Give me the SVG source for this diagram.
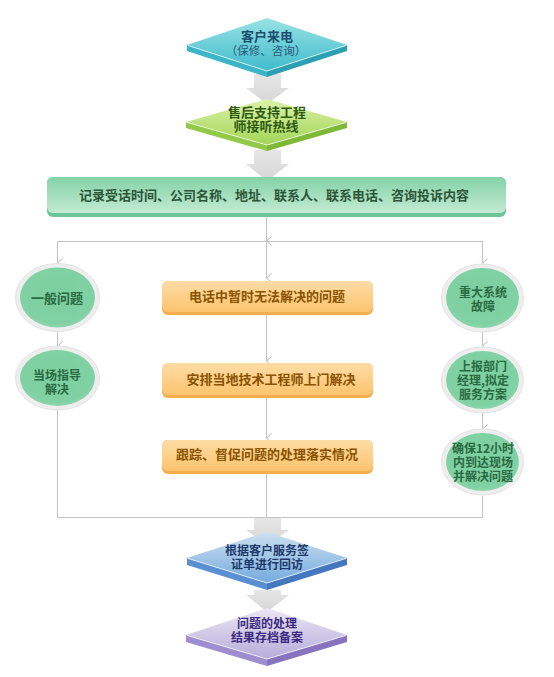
<svg xmlns="http://www.w3.org/2000/svg" width="554" height="677" viewBox="0 0 554 677">
<defs>
<linearGradient id="gCyan" x1="0" y1="0" x2="0" y2="1"><stop offset="0" stop-color="#9ae2e6"/><stop offset="1" stop-color="#3fbccb"/></linearGradient>
<linearGradient id="gGreen" x1="0" y1="0" x2="0" y2="1"><stop offset="0" stop-color="#dcf1aa"/><stop offset="1" stop-color="#a2d556"/></linearGradient>
<linearGradient id="gBlue" x1="0" y1="0" x2="0" y2="1"><stop offset="0" stop-color="#cde0f1"/><stop offset="1" stop-color="#75abdd"/></linearGradient>
<linearGradient id="gPurple" x1="0" y1="0" x2="0" y2="1"><stop offset="0" stop-color="#ebe7f4"/><stop offset="1" stop-color="#b7acda"/></linearGradient>
<linearGradient id="gRect" x1="0" y1="0" x2="0" y2="1"><stop offset="0" stop-color="#84d2a8"/><stop offset="1" stop-color="#c3ebd3"/></linearGradient>
<linearGradient id="gOrange" x1="0" y1="0" x2="0" y2="1"><stop offset="0" stop-color="#fedca6"/><stop offset="1" stop-color="#fcc46e"/></linearGradient>
<radialGradient id="gOval" cx="0.5" cy="0.45" r="0.6"><stop offset="0" stop-color="#7ccf9f"/><stop offset="0.8" stop-color="#80d1a3"/><stop offset="1" stop-color="#98dab4"/></radialGradient>
<linearGradient id="gArrow" x1="0" y1="0" x2="0" y2="1"><stop offset="0" stop-color="#e6e6e6"/><stop offset="1" stop-color="#d6d6d6"/></linearGradient>
<marker id="chev" viewBox="0 0 10 6" refX="5" refY="5.5" markerWidth="10" markerHeight="6" markerUnits="userSpaceOnUse" orient="auto-start-reverse">
<path d="M0.5,0.5 L5,5.5 L9.5,0.5" fill="none" stroke="#b8b8b8" stroke-width="1"/>
</marker>
</defs>
<style>
text{font-family:"Noto Sans CJK SC","Noto Sans",sans-serif;font-size:13px;font-weight:bold;text-anchor:middle}
.s{font-size:12px}
.ln{stroke:#c4c4c4;stroke-width:1;fill:none}
.big{fill:url(#gArrow)}
.ring{fill:#eeeeee;stroke:#e2e2e2;stroke-width:1}
.oval{fill:url(#gOval)}
.tg{fill:#2a6a40}
.to{fill:#8a5300}
.hl{fill:none;stroke:#ffffff;stroke-opacity:0.7;stroke-width:1}
</style>
<rect width="554" height="677" fill="#ffffff"/>
<g id="connectors">
<polygon class="big" points="254,74 281,74 281,88 289,88 267,104 246,88 254,88"/>
<polygon class="big" points="254,150 281,150 281,164 289,164 267,181 246,164 254,164"/>
<line class="ln" x1="266.5" y1="217" x2="266.5" y2="241" marker-end="url(#chev)"/>
<line class="ln" x1="57" y1="241.5" x2="483" y2="241.5"/>
<line class="ln" x1="57.5" y1="241" x2="57.5" y2="263" marker-end="url(#chev)"/>
<line class="ln" x1="266.5" y1="241" x2="266.5" y2="278" marker-end="url(#chev)"/>
<line class="ln" x1="482.5" y1="241" x2="482.5" y2="263" marker-end="url(#chev)"/>
<line class="ln" x1="57.5" y1="331" x2="57.5" y2="346" marker-end="url(#chev)"/>
<line class="ln" x1="57.5" y1="409" x2="57.5" y2="517"/>
<line class="ln" x1="266.5" y1="315" x2="266.5" y2="361" marker-end="url(#chev)"/>
<line class="ln" x1="266.5" y1="398" x2="266.5" y2="438" marker-end="url(#chev)"/>
<line class="ln" x1="266.5" y1="474" x2="266.5" y2="517"/>
<line class="ln" x1="482.5" y1="331" x2="482.5" y2="346" marker-end="url(#chev)"/>
<line class="ln" x1="482.5" y1="413" x2="482.5" y2="429" marker-end="url(#chev)"/>
<line class="ln" x1="482.5" y1="496" x2="482.5" y2="517"/>
<line class="ln" x1="57" y1="517.5" x2="483" y2="517.5"/>
<polygon class="big" points="254,518 281,518 281,530 289,530 267,545 246,530 254,530"/>
<polygon class="big" points="254,590 281,590 281,595 289,595 267,612 246,595 254,595"/>
</g>
<g id="n-call">
<polygon points="187,45 267,71 267,77 187,51" fill="#3bb6c6"/>
<polygon points="267,71 347,45 347,51 267,77" fill="#2aa0b2"/>
<polygon points="267,18 347,45 267,71 187,45" fill="url(#gCyan)"/>
<polyline class="hl" points="188,45.5 267,71 346,45.5"/>
<text x="267" y="41" fill="#1c4f6e">客户来电</text>
<text x="266" y="55" fill="#2a5a78" style="font-weight:normal;font-size:11.5px">（保修、咨询）</text>
</g>
<g id="n-hotline">
<polygon points="186,122 267,145 267,151 186,128" fill="#93c948"/>
<polygon points="267,145 347,122 347,128 267,151" fill="#7fb836"/>
<polygon points="267,99 347,122 267,145 186,122" fill="url(#gGreen)"/>
<polyline class="hl" points="187,122.5 267,145 346,122.5"/>
<text x="267" y="117" fill="#2e5a12">售后支持工程</text>
<text x="266" y="131" fill="#2e5a12">师接听热线</text>
</g>
<g id="n-record">
<rect x="47" y="177" width="459" height="40" rx="6" fill="#6cc596"/>
<rect x="47" y="177" width="459" height="36" rx="6" fill="url(#gRect)"/>
<text x="274" y="200" fill="#2d5638">记录受话时间、公司名称、地址、联系人、联系电话、咨询投诉内容</text>
</g>
<g id="n-general">
<ellipse class="ring" cx="57.5" cy="297.5" rx="42" ry="34"/>
<ellipse class="oval" cx="57.5" cy="297.5" rx="37.5" ry="30"/>
<text class="tg" x="57" y="303">一般问题</text>
</g>
<g id="n-guide">
<ellipse class="ring" cx="57.5" cy="378" rx="42" ry="32"/>
<ellipse class="oval" cx="57.5" cy="378" rx="37.5" ry="28"/>
<text class="tg s" x="57" y="380">当场指导</text>
<text class="tg s" x="57" y="394">解决</text>
</g>
<g id="n-major">
<ellipse class="ring" cx="482.5" cy="298" rx="41" ry="34"/>
<ellipse class="oval" cx="482.5" cy="298" rx="36.5" ry="30"/>
<text class="tg s" x="483" y="297">重大系统</text>
<text class="tg s" x="483" y="311">故障</text>
</g>
<g id="n-report">
<ellipse class="ring" cx="482.5" cy="380" rx="41" ry="33"/>
<ellipse class="oval" cx="482.5" cy="380" rx="36.5" ry="29"/>
<text class="tg s" x="483" y="371">上报部门</text>
<text class="tg s" x="483" y="385">经理,拟定</text>
<text class="tg s" x="483" y="399">服务方案</text>
</g>
<g id="n-ensure">
<ellipse class="ring" cx="482.5" cy="462" rx="41" ry="33"/>
<ellipse class="oval" cx="482.5" cy="462" rx="36.5" ry="29"/>
<text class="tg s" x="483" y="453">确保12小时</text>
<text class="tg s" x="483" y="467">内到达现场</text>
<text class="tg s" x="483" y="481">并解决问题</text>
</g>
<g id="n-phone">
<rect x="162" y="281" width="211" height="34" rx="6" fill="#f6ad4e"/>
<rect x="162" y="281" width="211" height="31" rx="6" fill="url(#gOrange)"/>
<text class="to" x="267" y="301">电话中暂时无法解决的问题</text>
</g>
<g id="n-arrange">
<rect x="162" y="363" width="211" height="35" rx="6" fill="#f6ad4e"/>
<rect x="162" y="363" width="211" height="32" rx="6" fill="url(#gOrange)"/>
<text class="to" x="271" y="384">安排当地技术工程师上门解决</text>
</g>
<g id="n-track">
<rect x="162" y="440" width="211" height="34" rx="6" fill="#f6ad4e"/>
<rect x="162" y="440" width="211" height="31" rx="6" fill="url(#gOrange)"/>
<text class="to" x="267" y="459">跟踪、督促问题的处理落实情况</text>
</g>
<g id="n-revisit">
<polygon points="187,558 267,583 267,590 187,565" fill="#5a8fd2"/>
<polygon points="267,583 347,558 347,565 267,590" fill="#4577be"/>
<polygon points="267,532 347,558 267,583 187,558" fill="url(#gBlue)"/>
<polyline class="hl" points="188,558.5 267,583 346,558.5"/>
<text class="s" x="267" y="555" fill="#1d3a6b">根据客户服务签</text>
<text class="s" x="267" y="569" fill="#1d3a6b">证单进行回访</text>
</g>
<g id="n-archive">
<polygon points="186,635 267,659 267,666 186,642" fill="#9e8dcf"/>
<polygon points="267,659 347,635 347,642 267,666" fill="#8874be"/>
<polygon points="267,608 347,635 267,659 186,635" fill="url(#gPurple)"/>
<polyline class="hl" points="187,635.5 267,659 346,635.5"/>
<text class="s" x="267" y="628" fill="#3a2a80">问题的处理</text>
<text class="s" x="267" y="642" fill="#3a2a80">结果存档备案</text>
</g>
</svg>
